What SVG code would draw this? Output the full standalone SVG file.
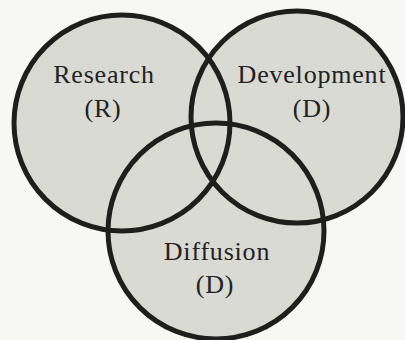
<svg xmlns="http://www.w3.org/2000/svg" width="405" height="340" viewBox="0 0 405 340">
<style>
.fill{fill:#dadad5;stroke:none}
.ring{fill:none;stroke:#1e1e1c;stroke-width:5}
.lbl{font-family:"Liberation Serif","Times New Roman",serif;font-size:26px;fill:#222;text-anchor:middle;letter-spacing:0.8px}
</style>
<rect width="405" height="340" fill="#f7f7f4"/>
<g id="fills">
<circle class="fill" cx="122" cy="123" r="108"/>
<circle class="fill" cx="297" cy="117" r="106"/>
<circle class="fill" cx="216" cy="231" r="108"/>
</g>
<g id="research">
<circle class="ring" cx="122" cy="123" r="108"/>
<text class="lbl" x="104" y="83">Research</text>
<text class="lbl" x="103" y="117">(R)</text>
</g>
<g id="development">
<circle class="ring" cx="297" cy="117" r="106"/>
<text class="lbl" x="312" y="83">Development</text>
<text class="lbl" x="312" y="117">(D)</text>
</g>
<g id="diffusion">
<circle class="ring" cx="216" cy="231" r="108"/>
<text class="lbl" x="217" y="260">Diffusion</text>
<text class="lbl" x="215" y="293">(D)</text>
</g>
<g id="connectors"/>
</svg>
